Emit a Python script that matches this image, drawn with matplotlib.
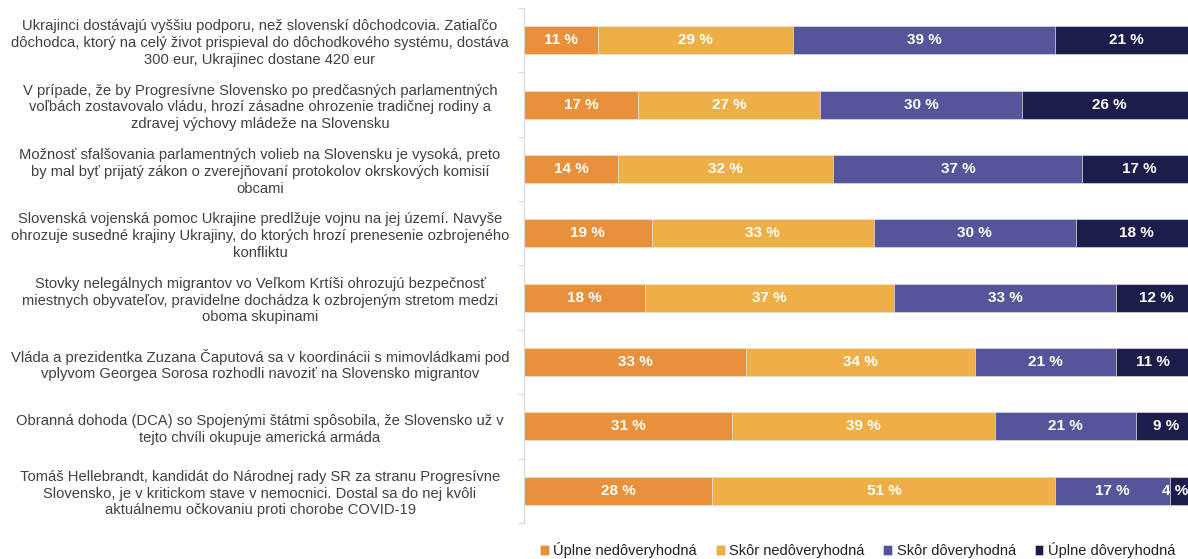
import matplotlib.pyplot as plt
import numpy as np
from matplotlib import font_manager

plt.rcParams.update({
    "font.family": ["Liberation Sans", "DejaVu Sans"],
    "font.size": 10.5,
})

# ── Data ──────────────────────────────────────────────────────────────────────
statements = [
    "Ukrajinci dostávajú vyššiu podporu, než slovenskí dôchodcovia. Zatiaľčo\n"
    "dôchodca, ktorý na celý život prispieval do dôchodkového systému, dostáva\n"
    "300 eur, Ukrajinec dostane 420 eur",
    "V prípade, že by Progresívne Slovensko po predčasných parlamentných\n"
    "voľbách zostavovalo vládu, hrozí zásadne ohrozenie tradičnej rodiny a\n"
    "zdravej výchovy mládeže na Slovensku",
    "Možnosť sfalšovania parlamentných volieb na Slovensku je vysoká, preto\n"
    "by mal byť prijatý zákon o zverejňovaní protokolov okrskových komisií\n"
    "obcami",
    "Slovenská vojenská pomoc Ukrajine predlžuje vojnu na jej území. Navyše\n"
    "ohrozuje susedné krajiny Ukrajiny, do ktorých hrozí prenesenie ozbrojeného\n"
    "konfliktu",
    "Stovky nelegálnych migrantov vo Veľkom Krtíši ohrozujú bezpečnosť\n"
    "miestnych obyvateľov, pravidelne dochádza k ozbrojeným stretom medzi\n"
    "oboma skupinami",
    "Vláda a prezidentka Zuzana Čaputová sa v koordinácii s mimovládkami pod\n"
    "vplyvom Georgea Sorosa rozhodli navoziť na Slovensko migrantov",
    "Obranná dohoda (DCA) so Spojenými štátmi spôsobila, že Slovensko už v\n"
    "tejto chvíli okupuje americká armáda",
    "Tomáš Hellebrandt, kandidát do Národnej rady SR za stranu Progresívne\n"
    "Slovensko, je v kritickom stave v nemocnici. Dostal sa do nej kvôli\n"
    "aktuálnemu očkovaniu proti chorobe COVID-19",
]

series_names = ["Úplne nedôveryhodná", "Skôr nedôveryhodná",
                "Skôr dôveryhodná", "Úplne dôveryhodná"]

uplne_nedov = [11, 17, 14, 19, 18, 33, 31, 28]
skor_nedov  = [29, 27, 32, 33, 37, 34, 39, 51]
skor_dov    = [39, 30, 37, 30, 33, 21, 21, 17]
uplne_dov   = [21, 26, 17, 18, 12, 11,  9,  4]

colors = ["#E8913A", "#EEB046", "#56549B", "#1C1D4A"]

# narrow bold font for the value labels, if available
names = {f.name for f in font_manager.fontManager.ttflist}
value_family = ["Liberation Sans Narrow"] if "Liberation Sans Narrow" in names else ["Liberation Sans"]

XMAX = 98.7  # the chart is cut off slightly before 100 % on the right

fig = plt.figure(figsize=(11.88, 5.59), dpi=100)
ax = fig.add_axes([0.441, 0.0644, 0.559, 0.9213])

y = np.arange(len(statements))
left = np.zeros(len(statements))
handles = []
for vals, name, col in zip([uplne_nedov, skor_nedov, skor_dov, uplne_dov],
                           series_names, colors):
    vals = np.array(vals, dtype=float)
    bars = ax.barh(y, vals, left=left, height=0.435, color=col, label=name,
                   edgecolor="#e6e6e6", linewidth=0.4)
    handles.append(bars)
    for yi, l, v in zip(y, left, vals):
        # keep labels inside the visible area
        xc = min(l + v / 2, XMAX - 1.9)
        ax.text(xc, yi, f"{int(v)} %", ha="center", va="center",
                color="white", fontweight="bold", fontsize=11,
                family=value_family)
    left += vals

ax.set_xlim(0, XMAX)
ax.set_ylim(len(statements) - 0.5, -0.5)
ax.set_xticks([])

ax.set_yticks(y)
ax.set_yticklabels(statements, ha="center", color="#404040", fontsize=10.6,
                   linespacing=1.25)
ax.tick_params(axis="y", which="major", length=0, pad=190)
ax.set_yticks(np.arange(-0.5, len(statements)), minor=True)
ax.tick_params(axis="y", which="minor", length=4, color="#d9d9d9", width=0.8)

for s in ["top", "right", "bottom"]:
    ax.spines[s].set_visible(False)
ax.spines["left"].set_color("#d9d9d9")
ax.spines["left"].set_linewidth(0.8)

fig.legend(handles=handles, labels=series_names, loc="lower center",
           bbox_to_anchor=(0.722, -0.022), ncol=4, frameon=False,
           handlelength=0.6, handleheight=0.6, handletextpad=0.3,
           columnspacing=1.3, fontsize=10.5, labelcolor="#202020")

plt.savefig("out.png", dpi=100)
